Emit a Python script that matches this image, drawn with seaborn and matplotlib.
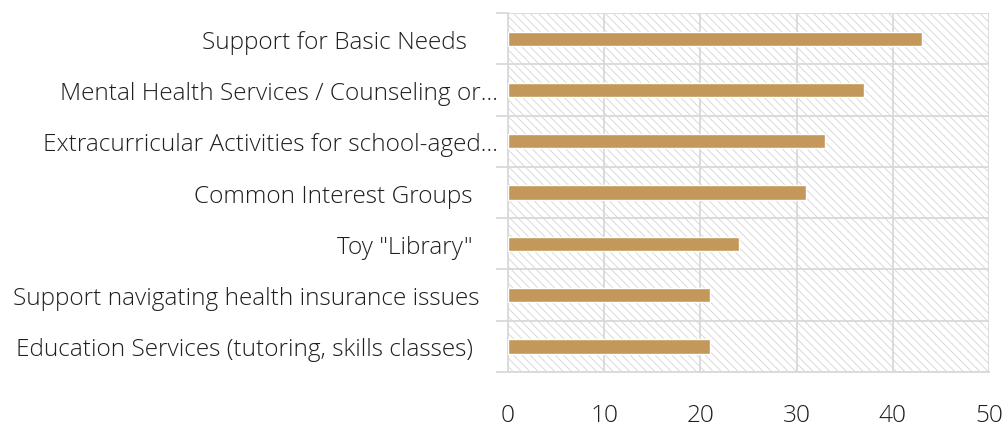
import matplotlib
matplotlib.use("Agg")
import matplotlib.pyplot as plt
import seaborn as sns
import pandas as pd
import numpy as np
from matplotlib.patches import Rectangle

categories = [
    "Support for Basic Needs     ",
    "Mental Health Services / Counseling or...",
    "Extracurricular Activities for school-aged...",
    "Common Interest Groups    ",
    'Toy "Library"    ',
    "Support navigating health insurance issues   ",
    "Education Services (tutoring, skills classes)    ",
]
values = [43, 37, 33, 31, 24, 21, 21]
x_ticks = [0, 10, 20, 30, 40, 50]

df = pd.DataFrame({"category": categories, "count": values})

sns.set_theme(style="white")
plt.rcParams["font.family"] = ["Open Sans", "DejaVu Sans"]
plt.rcParams["hatch.linewidth"] = 0.6

fig = plt.figure(figsize=(10.08, 4.27), dpi=100)
ax = fig.add_axes([0.504, 0.1265, 0.477, 0.8405])

grid_color = "#d9d9d9"

# hatched plot-area background
bg = Rectangle((0, 0), 1, 1, transform=ax.transAxes, facecolor="white",
               edgecolor="#d4d4d4", hatch="\\\\\\\\", linewidth=0, zorder=0)
ax.add_patch(bg)

sns.barplot(data=df, y="category", x="count", orient="h", color="#C4975A",
            saturation=1, width=0.28, ax=ax, zorder=3)

ax.set_xlim(0, 50)
ax.set_ylim(len(categories) - 0.5, -0.5)
ax.set_xticks(x_ticks)
ax.set_xticklabels([str(t) for t in x_ticks])
ax.set_xlabel("")
ax.set_ylabel("")

# category boundaries as minor ticks / grid
bounds = np.arange(-0.5, len(categories) + 0.5, 1)
ax.set_yticks(bounds, minor=True)
ax.grid(True, axis="x", which="major", color=grid_color, linewidth=1.3, zorder=1)
ax.grid(True, axis="y", which="minor", color=grid_color, linewidth=1.3, zorder=1)
ax.set_axisbelow(True)

ax.tick_params(axis="y", which="major", length=0, pad=7, labelsize=17.6, labelcolor="#1f1f1f")
ax.tick_params(axis="y", which="minor", length=9, width=1.3, color=grid_color, left=True)
ax.tick_params(axis="x", which="major", length=0, pad=22, labelsize=17.6, labelcolor="#1f1f1f")
for lbl in ax.get_yticklabels() + ax.get_xticklabels():
    lbl.set_fontweight("light")

for s in ["top", "right"]:
    ax.spines[s].set_visible(False)
for s in ["left", "bottom"]:
    ax.spines[s].set_color(grid_color)
    ax.spines[s].set_linewidth(1.3)
ax.spines["bottom"].set_bounds(0, 50)

fig.savefig("out.png", dpi=100, facecolor="white")
